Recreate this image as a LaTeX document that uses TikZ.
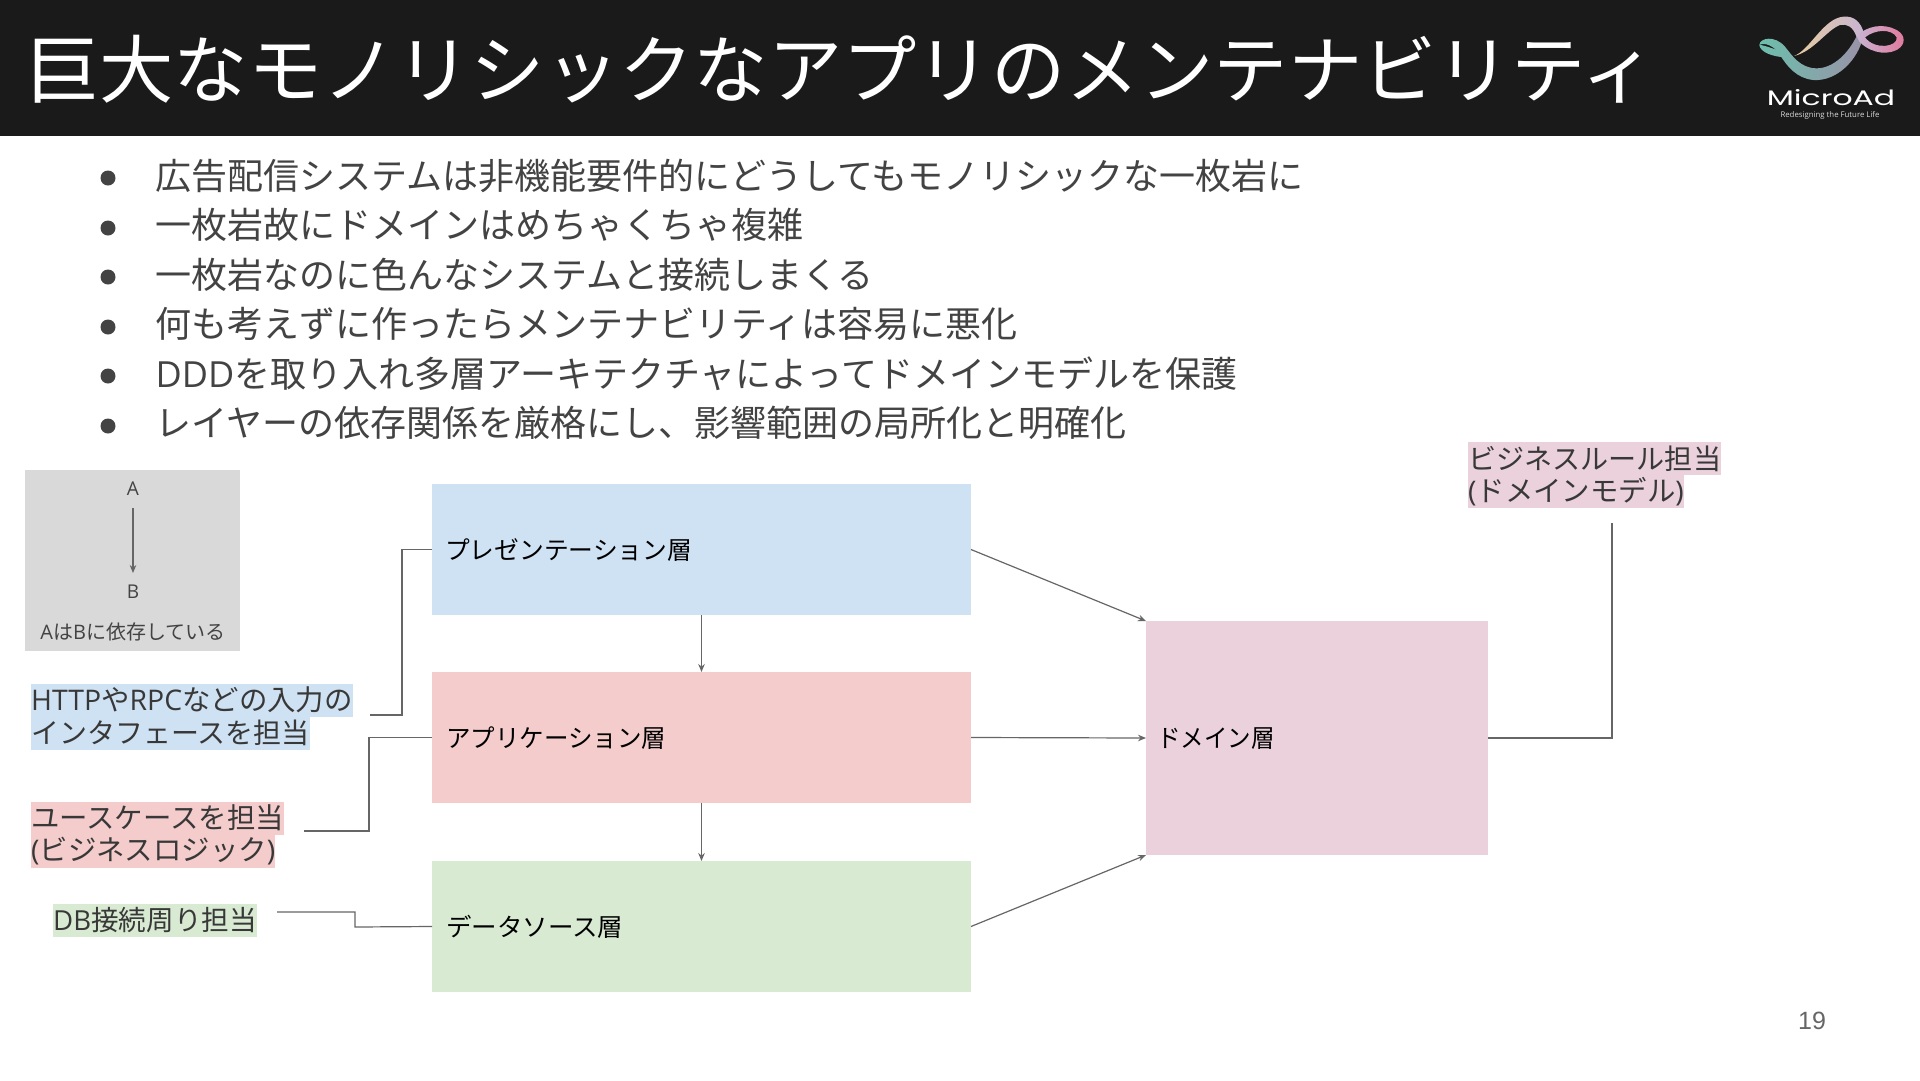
\documentclass[tikz,border=0pt]{standalone}
\usepackage{fontspec}
\setmainfont{Noto Sans CJK JP}
\newfontfamily\lat{Open Sans}
\newfontfamily\nineteen{Liberation Sans}
\newfontfamily\logof{Poppins}
\usetikzlibrary{arrows.meta}
\definecolor{band}{HTML}{1A1A1A}
\definecolor{txt}{HTML}{434343}
\definecolor{ntxt}{HTML}{383838}
\definecolor{cblue}{HTML}{CFE2F3}
\definecolor{cpink}{HTML}{F4CCCC}
\definecolor{cgreen}{HTML}{D9EAD3}
\definecolor{cdom}{HTML}{EAD1DC}
\definecolor{cleg}{HTML}{D9D9D9}
\definecolor{ln}{HTML}{666666}
\definecolor{lgteal}{HTML}{6CBFAC}
\definecolor{lggold}{HTML}{E6CDA0}
\definecolor{lglilac}{HTML}{C8B4D2}
\definecolor{lggray}{HTML}{9A92A8}
\definecolor{lgpink}{HTML}{E2789C}
\newcommand{\fs}[1]{\fontsize{#1}{#1}\selectfont}
\tikzset{
 layer/.style={inner sep=0pt,outer sep=0pt,minimum width=539pt,minimum height=131pt},
 layertxt/.style={anchor=west,inner sep=0pt,text=black,font=\fs{25}},
 bullettxt/.style={anchor=west,inner sep=0pt,text=txt,font=\fs{36}},
 bulletdot/.style={circle,fill=txt,minimum size=15pt,inner sep=0pt},
 note/.style={anchor=west,inner sep=0pt,minimum height=33pt,text=ntxt,font=\fs{28.4}},
 legendtxt/.style={inner sep=0pt,text=txt},
 conn/.style={draw=ln,line width=1.2pt},
 arr/.style={conn,-{Stealth[length=8pt,width=6.5pt]}},
}
\begin{document}
\begin{tikzpicture}[x=1pt,y=-1pt]
\useasboundingbox (0,0) rectangle (1920,1080);
\fill[white] (0,0) rectangle (1920,1080);
\fill[band] (0,0) rectangle (1920,136);
\node[name=title,anchor=west,inner sep=0pt,text=white,font=\fs{74.3}] at (25,69) {巨大なモノリシックなアプリのメンテナビリティ};

% logo
\begin{scope}[shift={(1700,0)},x=0.3333pt,y=-0.3333pt]
\shade[left color=lgteal,right color=lgteal!70!lggray] (178,135) .. controls (180,155) and (215,172) .. (265,172) -- (262,158) .. controls (225,150) and (195,135) .. (178,135) -- cycle;
\shade[left color=lggold,right color=lglilac] (282,168) .. controls (330,150) and (370,55) .. (430,50) .. controls (462,47) and (482,65) .. (492,100) -- (470,112) .. controls (460,80) and (440,70) .. (420,75) .. controls (380,90) and (340,155) .. (282,168) -- cycle;
\shade[left color=lgteal,right color=lggray] (178,135) .. controls (180,113) and (225,105) .. (255,140) .. controls (275,165) and (300,205) .. (350,205) .. controls (400,205) and (445,160) .. (470,108) -- (490,108) .. controls (475,180) and (410,245) .. (340,240) .. controls (290,235) and (262,200) .. (240,165) .. controls (225,140) and (195,125) .. (178,135) -- cycle;
\shade[left color=lglilac,right color=lgpink,even odd rule] (470,108) .. controls (500,78) and (550,68) .. (590,90) .. controls (618,105) and (618,135) .. (590,150) .. controls (550,170) and (500,150) .. (478,125) -- cycle (495,112) .. controls (525,88) and (575,85) .. (590,112) .. controls (595,140) and (525,152) .. (495,112) -- cycle;
\end{scope}
\node[name=logotxt,inner sep=0pt,text=white,font=\logof\fs{21},xscale=1.5] at (1831,98) {MicroAd};
\node[name=logosub,inner sep=0pt,text=white!85!black,font=\lat\fs{7.8}] at (1830,115.5) {Redesigning the Future Life};

% bullets
\node[bulletdot,name=b1] at (108,178) {};
\node[bulletdot,name=b2] at (108,228) {};
\node[bulletdot,name=b3] at (108,277) {};
\node[bulletdot,name=b4] at (108,327) {};
\node[bulletdot,name=b5] at (108,376) {};
\node[bulletdot,name=b6] at (108,426) {};
\node[bullettxt,name=t1] at (155.5,176) {広告配信システムは非機能要件的にどうしてもモノリシックな一枚岩に};
\node[bullettxt,name=t2] at (155.5,225) {一枚岩故にドメインはめちゃくちゃ複雑};
\node[bullettxt,name=t3] at (155.5,275) {一枚岩なのに色んなシステムと接続しまくる};
\node[bullettxt,name=t4] at (155.5,324) {何も考えずに作ったらメンテナビリティは容易に悪化};
\node[bullettxt,name=t5] at (155.5,374) {{\lat DDD}を取り入れ多層アーキテクチャによってドメインモデルを保護};
\node[bullettxt,name=t6] at (155.5,423) {レイヤーの依存関係を厳格にし、影響範囲の局所化と明確化};

% legend
\fill[cleg] (25,470) rectangle (240,651);
\node[legendtxt,name=la,font=\lat\fs{19}] at (133,489) {A};
\node[legendtxt,name=lb,font=\lat\fs{19}] at (133,592) {B};
\node[legendtxt,name=ld,font=\fs{20}] at (133,632) {{\lat A}は{\lat B}に依存している};
\draw[arr,shorten <=12pt,shorten >=12pt] (la.south) -- (lb.north);

% layers
\node[layer,fill=cblue,name=pres] at (701.5,549.5) {};
\node[layer,fill=cpink,name=app] at (701.5,737.5) {};
\node[layer,fill=cgreen,name=data] at (701.5,926.5) {};
\node[inner sep=0pt,outer sep=0pt,minimum width=342pt,minimum height=234pt,fill=cdom,name=dom] at (1317,738) {};
\node[layertxt,xscale=0.99,name=ptxt] at (445,550) {プレゼンテーション層};
\node[layertxt,xscale=0.98,name=atxt] at (446,738.5) {アプリケーション層};
\node[layertxt,xscale=1.02,name=dtxt] at (446,927) {データソース層};
\node[layertxt,xscale=0.94,name=mtxt] at (1157,739) {ドメイン層};

% notes
\node[note,fill=cblue,name=n1a] at (31,700) {{\lat HTTP}や{\lat RPC}などの入力の};
\node[note,fill=cblue,font=\fs{28},name=n1b] at (31,733) {インタフェースを担当};
\node[note,fill=cpink,name=n2a] at (31,818) {ユースケースを担当};
\node[note,fill=cpink,name=n2b] at (31,851) {{\lat (}ビジネスロジック{\lat )}};
\node[note,fill=cgreen,font=\fs{27.6},name=n3] at (53,920) {{\lat DB}接続周り担当};
\node[note,fill=cdom,font=\fs{28.1},name=n4a] at (1468,458.5) {ビジネスルール担当};
\node[note,fill=cdom,name=n4b] at (1468,491.5) {{\lat (}ドメインモデル{\lat )}};

% connectors
\coordinate (c1) at (370,715);
\coordinate (c2) at (304,831);
\coordinate (c3) at (277,912);
\coordinate (c4) at (1612,523);
\draw[conn] (c1) -- (402,715) |- (pres.west);
\draw[conn] (c2) -- (369,831) |- (app.west);
\draw[conn] (c3) -- (355,912) -- (355,927) -- (data.west);
\draw[conn] (dom.east) -| (c4);
\draw[arr] (pres.south) -- (app.north);
\draw[arr] (app.south) -- (data.north);
\draw[arr] (pres.east) -- (dom.north west);
\draw[arr] (app.east) -- (dom.west);
\draw[arr] (data.east) -- (dom.south west);

\node[name=pageno,inner sep=0pt,text=ln,font=\nineteen\fs{25}] at (1812,1020.5) {19};
\end{tikzpicture}
\end{document}
